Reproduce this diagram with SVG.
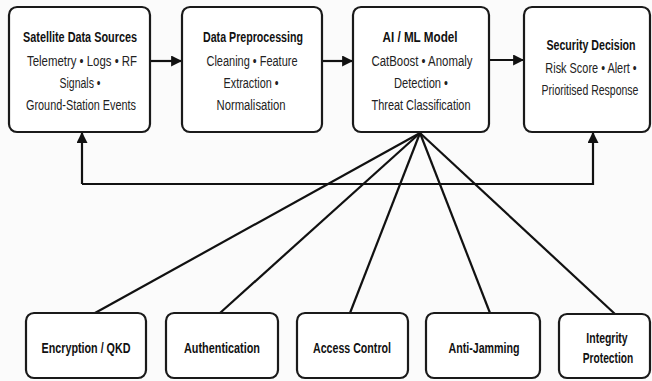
<svg xmlns="http://www.w3.org/2000/svg" width="652" height="381" viewBox="0 0 652 381">
<defs>
<marker id="ah" viewBox="0 0 10 10" refX="9" refY="5" markerWidth="11" markerHeight="11" markerUnits="userSpaceOnUse" orient="auto">
<path d="M0,0 L10,5 L0,10 z" fill="#111"/>
</marker>
<style>
.box{fill:#fff;stroke:#1a1a1a;stroke-width:2.2}
.t{font-family:"Liberation Sans",Arial,sans-serif;font-weight:bold;font-size:14px;fill:#111;text-anchor:middle}
.b{font-family:"Liberation Sans",Arial,sans-serif;font-size:14px;fill:#222;text-anchor:middle}
.bt{font-family:"Liberation Sans",Arial,sans-serif;font-weight:bold;font-size:15px;fill:#111;text-anchor:middle}
.c{fill:none;stroke:#111;stroke-width:2.2}
</style>
</defs>
<rect width="652" height="381" fill="#fbfbfb"/>
<g id="connectors">
<line class="c" x1="150" y1="61" x2="181" y2="61" marker-end="url(#ah)"/>
<line class="c" x1="322" y1="61" x2="352" y2="61" marker-end="url(#ah)"/>
<line class="c" x1="489" y1="60" x2="523" y2="60" marker-end="url(#ah)"/>
<polyline class="c" points="82,184 82,133" marker-end="url(#ah)"/>
<polyline class="c" points="82,184 593,184 593,133" marker-end="url(#ah)"/>
<line class="c" x1="420" y1="133" x2="95" y2="313"/>
<line class="c" x1="420" y1="133" x2="220" y2="313"/>
<line class="c" x1="420" y1="133" x2="350" y2="313"/>
<line class="c" x1="420" y1="133" x2="490" y2="313"/>
<line class="c" x1="420" y1="133" x2="615" y2="314"/>
</g>
<g id="sources">
<rect class="box" x="9" y="7" width="141" height="125" rx="8"/>
<text class="t" x="80" y="42" textLength="114" lengthAdjust="spacingAndGlyphs">Satellite Data Sources</text>
<text class="b" x="82" y="66" textLength="110" lengthAdjust="spacingAndGlyphs">Telemetry • Logs • RF</text>
<text class="b" x="80" y="88" textLength="41" lengthAdjust="spacingAndGlyphs">Signals •</text>
<text class="b" x="81" y="110" textLength="110" lengthAdjust="spacingAndGlyphs">Ground-Station Events</text>
</g>
<g id="preprocessing">
<rect class="box" x="182" y="7" width="140" height="125" rx="8"/>
<text class="t" x="253" y="42" textLength="100" lengthAdjust="spacingAndGlyphs">Data Preprocessing</text>
<text class="b" x="252" y="66" textLength="91" lengthAdjust="spacingAndGlyphs">Cleaning • Feature</text>
<text class="b" x="251" y="88" textLength="55" lengthAdjust="spacingAndGlyphs">Extraction •</text>
<text class="b" x="251" y="110" textLength="69" lengthAdjust="spacingAndGlyphs">Normalisation</text>
</g>
<g id="model">
<rect class="box" x="353" y="7" width="136" height="125" rx="8"/>
<text class="t" x="420" y="42" textLength="75" lengthAdjust="spacingAndGlyphs">AI / ML Model</text>
<text class="b" x="422" y="66" textLength="101" lengthAdjust="spacingAndGlyphs">CatBoost • Anomaly</text>
<text class="b" x="421" y="88" textLength="54" lengthAdjust="spacingAndGlyphs">Detection •</text>
<text class="b" x="421" y="110" textLength="99" lengthAdjust="spacingAndGlyphs">Threat Classification</text>
</g>
<g id="decision">
<rect class="box" x="524" y="7" width="126" height="125" rx="8"/>
<text class="t" transform="translate(591,50) scale(0.76,1)">Security Decision</text>
<text class="b" transform="translate(591,73) scale(0.78,1)">Risk Score • Alert •</text>
<text class="b" transform="translate(590,95) scale(0.75,1)">Prioritised Response</text>
</g>
<g id="encryption">
<rect class="box" x="26" y="313" width="120" height="65" rx="8"/>
<text class="bt" x="86" y="353" textLength="89" lengthAdjust="spacingAndGlyphs">Encryption / QKD</text>
</g>
<g id="authentication">
<rect class="box" x="166" y="313" width="112" height="65" rx="8"/>
<text class="bt" x="222" y="353" textLength="76" lengthAdjust="spacingAndGlyphs">Authentication</text>
</g>
<g id="access-control">
<rect class="box" x="297" y="313" width="111" height="65" rx="8"/>
<text class="bt" x="352" y="353" textLength="78" lengthAdjust="spacingAndGlyphs">Access Control</text>
</g>
<g id="anti-jamming">
<rect class="box" x="426" y="313" width="114" height="65" rx="8"/>
<text class="bt" x="484" y="353" textLength="71" lengthAdjust="spacingAndGlyphs">Anti-Jamming</text>
</g>
<g id="integrity">
<rect class="box" x="559" y="314" width="91" height="64" rx="8"/>
<text class="bt" transform="translate(607,343) scale(0.7,1)">Integrity</text>
<text class="bt" transform="translate(608,363) scale(0.68,1)">Protection</text>
</g>
</svg>
